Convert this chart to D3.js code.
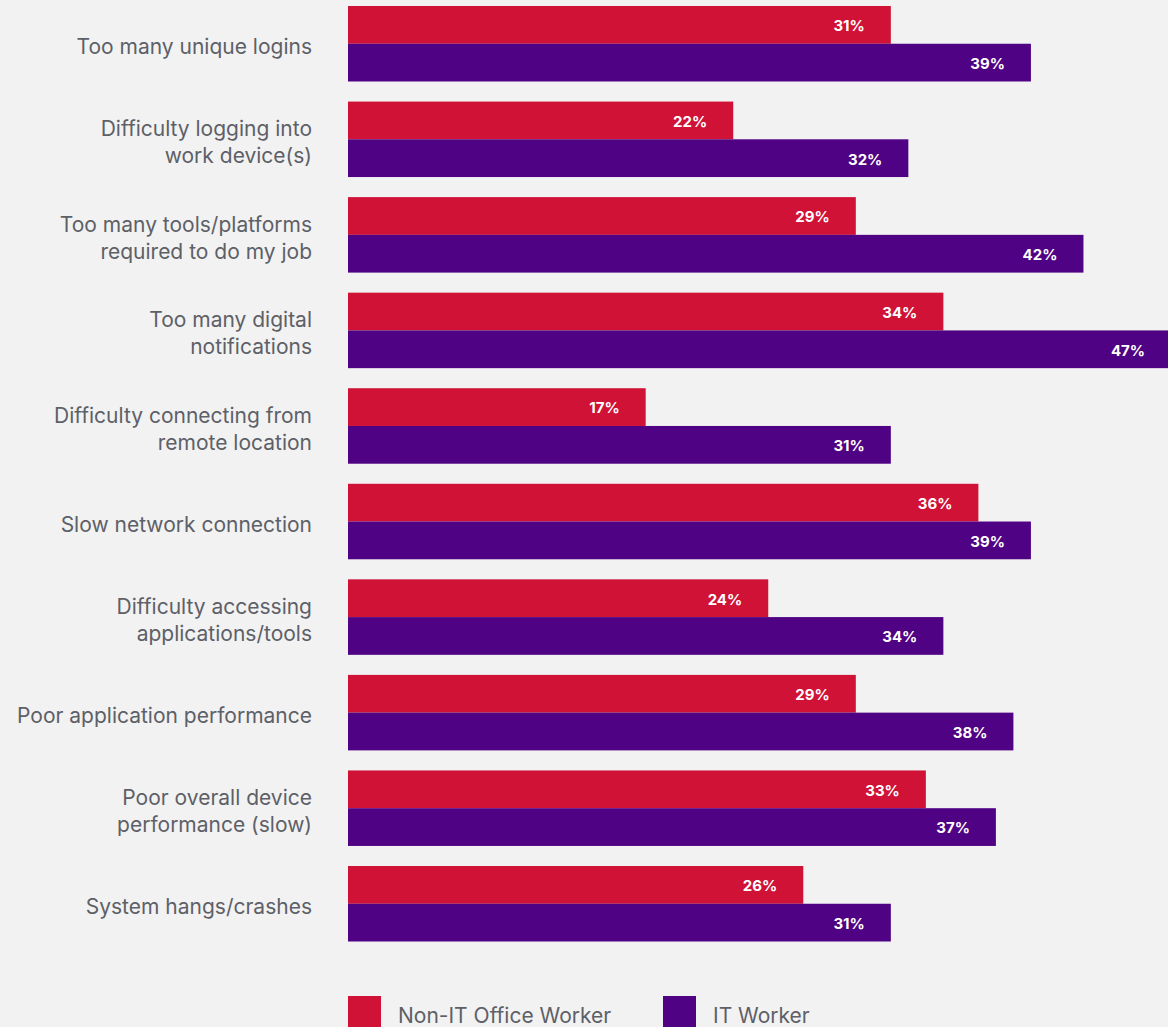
<!DOCTYPE html>
<html>
<head>
<meta charset="utf-8">
<script src="https://cdn.jsdelivr.net/npm/d3@7"></script>
<style>
  html, body { margin: 0; padding: 0; background: #f2f2f2; }
  svg { display: block; }
</style>
</head>
<body>
<svg id="chart" width="1168" height="1027"></svg>
<script>
// Survey categories (multi-line labels split with "\n")
const categories = [
  "Too many unique logins",
  "Difficulty logging into\nwork device(s)",
  "Too many tools/platforms\nrequired to do my job",
  "Too many digital\nnotifications",
  "Difficulty connecting from\nremote location",
  "Slow network connection",
  "Difficulty accessing\napplications/tools",
  "Poor application performance",
  "Poor overall device\nperformance (slow)",
  "System hangs/crashes"
];
const seriesNames = ["Non-IT Office Worker", "IT Worker"];
const nonITValues = [31, 22, 29, 34, 17, 36, 24, 29, 33, 26];
const itValues = [39, 32, 42, 47, 31, 39, 34, 38, 37, 31];
const seriesColors = ["#cf1236", "#4f0284"];

const svg = d3.select("#chart");
const fontFamily = "Inter, 'Noto Sans', sans-serif";

const x = d3.scaleLinear().domain([0, 47]).range([348, 1171]);
const y = d3.scaleBand().domain(categories).range([6, 941.5]).paddingInner(0.21).paddingOuter(0);
const ySub = d3.scaleBand().domain(seriesNames).range([0, y.bandwidth()]);

const rows = categories.map((c, i) => ({ cat: c, vals: [nonITValues[i], itValues[i]] }));

const groups = svg.append("g").selectAll("g.group")
  .data(rows).join("g")
  .attr("class", "group")
  .attr("transform", d => `translate(0,${y(d.cat)})`);

groups.selectAll("rect")
  .data(d => d.vals.map((v, k) => ({ v, s: seriesNames[k], k })))
  .join("rect")
  .attr("x", x(0))
  .attr("y", d => ySub(d.s))
  .attr("width", d => x(d.v) - x(0))
  .attr("height", ySub.bandwidth())
  .attr("fill", d => seriesColors[d.k]);

groups.selectAll("text.val")
  .data(d => d.vals.map((v, k) => ({ v, s: seriesNames[k], k })))
  .join("text")
  .attr("class", "val")
  .attr("x", d => x(d.v) - 26)
  .attr("y", d => ySub(d.s) + ySub.bandwidth() / 2 + 1)
  .attr("dy", "0.36em")
  .attr("text-anchor", "end")
  .attr("fill", "#ffffff")
  .attr("font-family", fontFamily)
  .attr("font-weight", 700)
  .attr("font-size", 15)
  .text(d => d.v + "%");

// Category labels, right-aligned to the left of the bars
const lineH = 27;
groups.append("text")
  .attr("class", "cat")
  .attr("text-anchor", "end")
  .attr("fill", "#5d6067")
  .attr("font-family", fontFamily)
  .attr("font-size", 21)
  .each(function(d) {
    const lines = d.cat.split("\n");
    const t = d3.select(this);
    const c = y.bandwidth() / 2 + 3;
    lines.forEach((ln, j) => {
      t.append("tspan")
        .attr("x", 312)
        .attr("y", c + (j - (lines.length - 1) / 2) * lineH)
        .attr("dy", "0.36em")
        .text(ln);
    });
  });

// Legend
const legend = svg.append("g").attr("class", "legend");
const legendX = [348, 663];
seriesNames.forEach((name, i) => {
  legend.append("rect")
    .attr("x", legendX[i]).attr("y", 996)
    .attr("width", 33).attr("height", 33)
    .attr("fill", seriesColors[i]);
  legend.append("text")
    .attr("x", legendX[i] + 50).attr("y", 1023)
    .attr("fill", "#5d6067")
    .attr("font-family", fontFamily)
    .attr("font-size", 21)
    .text(name);
});
</script>
</body>
</html>
